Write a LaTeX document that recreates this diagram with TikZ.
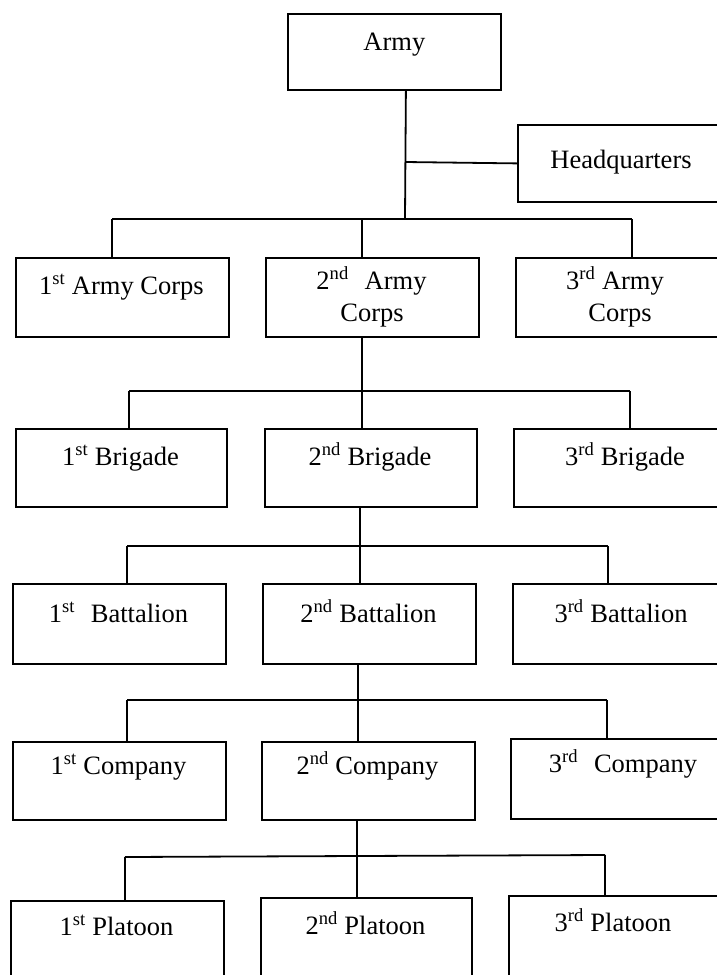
\documentclass[tikz,border=0pt]{standalone}
\usepackage{fontspec}
\setmainfont{Liberation Serif}
\newcommand{\sups}[1]{\textsuperscript{#1}}
\begin{document}
\begin{tikzpicture}[x=1pt,y=-1pt,
  box/.style={draw, line width=1.8pt, inner sep=0pt, anchor=north west},
  lbl/.style={anchor=base, inner sep=0pt, font=\fontsize{26.5}{31}\selectfont},
  link/.style={line width=1.8pt}]
\clip (0,0) rectangle (717,975);
\fill[white] (0,0) rectangle (717,975);

% Army and Headquarters
\node[box, minimum width=213pt, minimum height=76pt] (army) at (287,13) {};
\node[lbl] (armyt) at ([yshift=-37pt]army.north) {Army};
\node[box, minimum width=208pt, minimum height=77pt] (hq) at (517,124) {};
\node[lbl] (hqt) at (621,168) {Headquarters};

% Row 1
\node[box, minimum width=213pt, minimum height=79pt] (c11) at (15,257) {};
\node[box, minimum width=213pt, minimum height=79pt] (c12) at (265,257) {};
\node[box, minimum width=210pt, minimum height=79pt] (c13) at (515,257) {};
\node[lbl] (c11t) at (121.5,294) {1\sups{st} Army Corps};
\node[lbl] (c12t) at (371.5,289) {2\sups{nd}\hspace{0.35em} Army};
\node[lbl] (c12u) at (372,321) {Corps};
\node[lbl] (c13t) at (615,289) {3\sups{rd} Army};
\node[lbl] (c13u) at (620,321) {Corps};

% Row 2
\node[box, minimum width=211pt, minimum height=78pt] (c21) at (15,428) {};
\node[box, minimum width=212pt, minimum height=78pt] (c22) at (264,428) {};
\node[box, minimum width=212pt, minimum height=78pt] (c23) at (513,428) {};
\node[lbl] (c21t) at (120.5,465) {1\sups{st} Brigade};
\node[lbl] (c22t) at (370,465) {2\sups{nd} Brigade};
\node[lbl] (c23t) at (625,465) {3\sups{rd} Brigade};

% Row 3
\node[box, minimum width=213pt, minimum height=80pt] (c31) at (12,583) {};
\node[box, minimum width=213pt, minimum height=80pt] (c32) at (262,583) {};
\node[box, minimum width=213pt, minimum height=80pt] (c33) at (512,583) {};
\node[lbl] (c31t) at (118.5,622) {1\sups{st}\hspace{0.35em} Battalion};
\node[lbl] (c32t) at (368.5,622) {2\sups{nd} Battalion};
\node[lbl] (c33t) at (621,622) {3\sups{rd} Battalion};

% Row 4
\node[box, minimum width=213pt, minimum height=78pt] (c41) at (12,741) {};
\node[box, minimum width=213pt, minimum height=78pt] (c42) at (261,741) {};
\node[box, minimum width=215pt, minimum height=80pt] (c43) at (510,738) {};
\node[lbl] (c41t) at (118.5,774) {1\sups{st} Company};
\node[lbl] (c42t) at (367.5,774) {2\sups{nd} Company};
\node[lbl] (c43t) at (623,772) {3\sups{rd}\hspace{0.35em} Company};

% Row 5
\node[box, minimum width=213pt, minimum height=90pt] (c51) at (10,900) {};
\node[box, minimum width=211pt, minimum height=90pt] (c52) at (260,897) {};
\node[box, minimum width=217pt, minimum height=90pt] (c53) at (508,895) {};
\node[lbl] (c51t) at (116.5,935) {1\sups{st} Platoon};
\node[lbl] (c52t) at (365.5,934) {2\sups{nd} Platoon};
\node[lbl] (c53t) at (613,931) {3\sups{rd} Platoon};

% Connectors: Army level
\coordinate (a1) at ([xshift=11.5pt]army.south);
\coordinate (hqj) at (405,162);
\coordinate (b1l) at (112,219);
\coordinate (b1m) at (362,219);
\coordinate (b1j) at (405,219);
\coordinate (b1r) at (632,219);
\draw[link] (a1) -- (b1j);
\draw[link] (hqj) -- (hq.west);
\draw[link] (b1l) -- (b1r);
\draw[link] (b1l) -- (b1l |- c11.north);
\draw[link] (b1m) -- (b1m |- c12.north);
\draw[link] (b1r) -- (b1r |- c13.north);

% Corps to Brigades
\coordinate (b2l) at (129,391);
\coordinate (b2m) at (362,391);
\coordinate (b2r) at (630,391);
\draw[link] (b2m |- c12.south) -- (b2m);
\draw[link] (b2l) -- (b2r);
\draw[link] (b2l) -- (b2l |- c21.north);
\draw[link] (b2m) -- (b2m |- c22.north);
\draw[link] (b2r) -- (b2r |- c23.north);

% Brigade to Battalions
\coordinate (b3l) at (127,546);
\coordinate (b3m) at (360,546);
\coordinate (b3r) at (608,546);
\draw[link] (b3m |- c22.south) -- (b3m);
\draw[link] (b3l) -- (b3r);
\draw[link] (b3l) -- (b3l |- c31.north);
\draw[link] (b3m) -- (b3m |- c32.north);
\draw[link] (b3r) -- (b3r |- c33.north);

% Battalion to Companies
\coordinate (b4l) at (127,700);
\coordinate (b4m) at (358,700);
\coordinate (b4r) at (607,700);
\draw[link] (b4m |- c32.south) -- (b4m);
\draw[link] (b4l) -- (b4r);
\draw[link] (b4l) -- (b4l |- c41.north);
\draw[link] (b4m) -- (b4m |- c42.north);
\draw[link] (b4r) -- (b4r |- c43.north);

% Company to Platoons
\coordinate (b5l) at (125,857);
\coordinate (b5m) at (357,856);
\coordinate (b5r) at (605,855);
\draw[link] (b5m |- c42.south) -- (b5m);
\draw[link] (b5l) -- (b5m) -- (b5r);
\draw[link] (b5l) -- (b5l |- c51.north);
\draw[link] (b5m) -- (b5m |- c52.north);
\draw[link] (b5r) -- (b5r |- c53.north);
\end{tikzpicture}
\end{document}
